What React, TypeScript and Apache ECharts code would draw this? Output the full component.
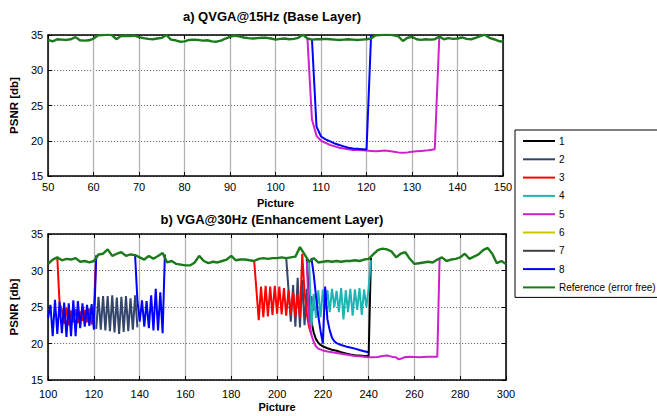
import React, { useEffect, useRef } from "react";
import * as echarts from "echarts";

const FONT = 'Arial, "Liberation Sans", Helvetica, sans-serif';

// ---------- Top chart (QVGA@15Hz) ----------
const topStart = 50; // frame of first reference value, one value per frame
const topReference = [
  34.3, 34.1, 34.4, 34.35, 34.3, 34.4, 34.7, 34.25, 34.2, 34.25,
  34.5, 34.95, 35.0, 35.05, 35.0, 34.4, 34.85, 34.9, 34.85, 34.9,
  34.7, 34.55, 34.45, 34.4, 34.5, 34.6, 35.0, 34.35, 34.25, 34.05,
  34.1, 34.3, 34.35, 34.3, 34.2, 34.25, 34.1, 34.05, 34.2, 34.5,
  34.75, 34.9, 34.8, 34.65, 34.55, 34.5, 34.55, 34.6, 34.6, 34.5,
  34.35, 34.45, 34.5, 34.4, 34.45, 34.6, 35.05, 34.5, 34.35, 34.4,
  34.4, 34.45, 34.4, 34.35, 34.3, 34.35, 34.4, 34.35, 34.3, 34.35,
  34.4, 34.5, 34.95, 35.0, 35.05, 35.05, 34.95, 34.8, 34.15, 34.6,
  34.75, 34.4, 34.3, 34.4, 34.35, 34.4, 34.8, 34.4, 34.55, 34.45,
  34.5, 34.65, 34.45, 34.4, 34.6, 34.85, 35.05, 34.6, 34.4, 34.15,
  34.05,
];
const topSeries5 = [
  [107, 34.6], [108, 23.0], [109, 20.7], [110, 20.0], [111, 19.7], [112, 19.4],
  [113, 19.2], [114, 19.0], [115, 18.9], [116, 18.8], [117, 18.7], [118, 18.7],
  [119, 18.65], [120, 18.6], [121, 18.55], [122, 18.5], [123, 18.55], [124, 18.6],
  [125, 18.55], [126, 18.45], [127, 18.35], [128, 18.3], [129, 18.35], [130, 18.45],
  [131, 18.5], [132, 18.55], [133, 18.6], [134, 18.7], [135, 18.8], [136, 34.8],
];
const topSeries8 = [
  [108, 34.4], [109, 22.0], [110, 20.6], [111, 20.2], [112, 19.9], [113, 19.6],
  [114, 19.4], [115, 19.2], [116, 19.0], [117, 18.9], [118, 18.85], [119, 18.8],
  [120, 18.75], [121, 35.0],
];

// ---------- Bottom chart (VGA@30Hz) ----------
const bottomStart = 100;
const bottomStep = 2; // reference sampled every 2 frames
const bottomReference = [
  30.9, 31.5, 31.8, 31.4, 31.6, 31.5, 31.7, 31.2, 31.3, 31.1,
  31.3, 32.2, 32.3, 32.9, 32.0, 32.3, 32.5, 32.0, 32.2, 32.1,
  31.8, 31.5, 32.0, 31.6, 32.0, 32.4, 31.1, 31.3, 30.9, 30.8,
  30.7, 30.7, 31.1, 32.0, 31.3, 31.0, 31.2, 31.1, 31.3, 31.5,
  32.0, 31.4, 31.5, 31.5, 31.4, 31.3, 31.6, 31.7, 31.6, 31.7,
  31.7, 31.8, 31.7, 31.8, 31.9, 33.2, 32.2, 31.2, 31.7, 31.1,
  31.2, 31.3, 31.2, 31.3, 31.2, 31.3, 31.3, 31.4, 31.3, 31.5,
  31.6, 32.2, 32.8, 33.0, 32.9, 32.6, 31.8, 32.3, 32.5, 31.6,
  30.9, 31.0, 31.1, 31.2, 31.1, 31.5, 31.8, 31.3, 31.5, 31.6,
  31.8, 32.3, 31.6, 31.9, 32.2, 32.8, 33.1, 32.3, 31.0, 31.3,
  30.9,
];
const bottom1 = [
  [213, 31.6], [214, 26.0], [215, 23.0], [216, 21.5], [217, 20.6], [218, 20.1],
  [219, 19.8], [220, 19.6], [222, 19.35], [224, 19.15], [226, 19.0], [228, 18.8],
  [230, 18.65], [232, 18.5], [234, 18.4], [236, 18.35], [238, 18.3], [240, 18.3], [241, 31.7],
];
const bottom2a = [
  [121, 22.0], [122, 26.4], [123, 21.9], [124, 26.5], [125, 21.8], [126, 26.5],
  [127, 21.7], [128, 26.6], [129, 21.5], [130, 26.3], [131, 21.3], [132, 26.4],
  [133, 21.6], [134, 26.5], [135, 21.7], [136, 26.2], [137, 21.9], [138, 26.6], [139, 22.2],
];
const bottom2b = [
  [204, 31.7], [206, 23.0], [207, 28.0], [208, 22.3], [209, 29.0], [210, 22.2],
  [211, 28.7], [212, 22.5], [213, 27.5], [214, 23.5], [215, 26.5], [216, 24.5],
];
const bottom3a = [
  [104, 31.8], [105, 25.5], [106, 24.6], [107, 22.7], [108, 24.9], [109, 22.5],
  [110, 24.5], [111, 22.9], [112, 24.7], [113, 22.8], [114, 24.4], [115, 23.1],
  [116, 24.6], [117, 22.9], [118, 24.8], [119, 22.6], [120, 24.5], [121, 31.9],
];
const bottom3b = [
  [190, 31.3], [192, 23.2], [193, 27.8], [194, 23.6], [195, 27.9], [196, 23.7],
  [197, 27.8], [198, 23.9], [199, 27.9], [200, 24.1], [201, 27.8], [202, 24.0],
  [203, 27.6], [204, 23.8], [205, 27.3], [206, 24.0], [207, 27.0], [208, 23.6],
  [209, 26.8], [210, 23.5], [211, 32.3], [212, 27.0], [213, 24.0], [214, 22.2], [215, 21.2],
];
const bottom4 = [
  [214, 31.4], [215, 22.3], [216, 26.8], [217, 23.5], [218, 27.3], [219, 23.6],
  [220, 27.4], [221, 24.7], [222, 27.3], [223, 24.3], [224, 27.5], [225, 25.0],
  [226, 27.2], [227, 24.3], [228, 27.6], [229, 23.3], [230, 27.3], [231, 24.3],
  [232, 27.5], [233, 23.8], [234, 27.4], [235, 24.6], [236, 27.6], [237, 23.9],
  [238, 27.4], [239, 25.0], [240, 27.6], [241, 31.4],
];
const bottom5 = [
  [213, 31.3], [214, 23.0], [215, 21.2], [216, 20.2], [217, 19.6], [218, 19.3],
  [220, 19.05], [222, 18.9], [224, 18.8], [226, 18.7], [228, 18.6], [230, 18.5],
  [232, 18.4], [234, 18.3], [236, 18.25], [238, 18.2], [240, 18.1], [242, 18.1],
  [244, 18.15], [246, 18.3], [248, 18.35], [250, 18.2], [252, 18.1], [253, 17.85],
  [254, 17.9], [256, 18.15], [258, 18.2], [260, 18.15], [262, 18.1], [264, 18.15],
  [266, 18.2], [268, 18.2], [270, 18.2], [271, 31.7],
];
const bottom6: number[][] = [];
const bottom7: number[][] = [];
const bottom8a = [
  [100, 23.5], [101, 25.3], [102, 21.0], [103, 26.0], [104, 21.3], [105, 25.7],
  [106, 21.4], [107, 25.6], [108, 20.9], [109, 25.5], [110, 21.0], [111, 25.9],
  [112, 21.0], [113, 25.8], [114, 22.1], [115, 25.5], [116, 22.3], [117, 25.3],
  [118, 22.4], [119, 25.4], [120, 21.9], [121, 32.1],
];
const bottom8b = [
  [138, 32.0], [139, 25.9], [140, 23.0], [141, 25.9], [142, 22.3], [143, 25.8],
  [144, 22.1], [145, 26.6], [146, 21.8], [147, 27.5], [148, 21.8], [149, 27.0],
  [150, 21.4], [151, 32.2],
];
const bottom8c = [
  [215, 31.7], [216, 29.5], [217, 26.5], [218, 23.8], [219, 21.7], [220, 20.0],
  [221, 27.8], [222, 23.3], [223, 21.8], [224, 20.8], [225, 20.3], [226, 20.05],
  [228, 19.8], [230, 19.6], [232, 19.45], [234, 19.3], [236, 19.1], [238, 18.95], [240, 18.8],
];

const REF = "Reference (error free)";
const legendNames = ["1", "2", "3", "4", "5", "6", "7", "8", REF];
const COLORS: Record<string, string> = {
  "1": "#000000",
  "2": "#34466c",
  "3": "#ff0000",
  "4": "#1fb4b4",
  "5": "#cc22cc",
  "6": "#c8c800",
  "7": "#404040",
  "8": "#0000ff",
  [REF]: "#1b7b1b",
};

function buildOption() {
  const topRefData = topReference.map((v, i) => [topStart + i, v]);
  const botRefData = bottomReference.map((v, i) => [bottomStart + i * bottomStep, v]);

  const line = (name: string, data: number[][], grid: number, z: number, width = 2) => ({
    type: "line",
    name,
    data,
    xAxisIndex: grid * 2,
    yAxisIndex: grid * 2,
    symbol: "none",
    showSymbol: false,
    silent: true,
    z,
    lineStyle: { color: COLORS[name], width },
    itemStyle: { color: COLORS[name] },
  });

  const series = [
    line("5", topSeries5, 0, 5),
    line("8", topSeries8, 0, 8),
    line(REF, topRefData, 0, 10, 2.4),
    line("1", bottom1, 1, 1),
    line("2", bottom2a, 1, 2),
    line("2", bottom2b, 1, 2),
    line("3", bottom3a, 1, 3),
    line("3", bottom3b, 1, 3),
    line("4", bottom4, 1, 4),
    line("5", bottom5, 1, 5),
    line("6", bottom6, 1, 6),
    line("7", bottom7, 1, 7),
    line("8", bottom8a, 1, 8),
    line("8", bottom8b, 1, 8),
    line("8", bottom8c, 1, 8),
    line(REF, botRefData, 1, 10, 2.4),
  ];

  const labelStyle = { fontSize: 11, color: "#000", fontFamily: FONT };
  const nameStyle = { fontSize: 11, fontWeight: "bold", color: "#000", fontFamily: FONT };
  const axisLine = { show: true, onZero: false, lineStyle: { color: "#000", width: 1.5 } };
  const axisTick = { show: true, inside: true, length: 4, lineStyle: { color: "#000", width: 1 } };
  const vSplit = { show: true, lineStyle: { color: "#b4b4b4", width: 1.3, type: "solid" } };
  const hSplit = { show: true, lineStyle: { color: "#555", width: 1, type: [1, 2] } };

  const xMain = (grid: number, min: number, max: number, interval: number, margin: number, nameGap: number) => ({
    type: "value",
    gridIndex: grid,
    min,
    max,
    interval,
    position: "bottom",
    axisLine,
    axisTick,
    axisLabel: { ...labelStyle, margin },
    splitLine: vSplit,
    name: "Picture",
    nameLocation: "middle",
    nameGap,
    nameTextStyle: nameStyle,
  });
  const xTop = (grid: number, min: number, max: number, interval: number) => ({
    type: "value",
    gridIndex: grid,
    min,
    max,
    interval,
    position: "top",
    axisLine,
    axisTick,
    axisLabel: { show: false },
    splitLine: { show: false },
  });
  const yMain = (grid: number, nameGap: number) => ({
    type: "value",
    gridIndex: grid,
    min: 15,
    max: 35,
    interval: 5,
    position: "left",
    axisLine,
    axisTick,
    axisLabel: { ...labelStyle, margin: 5 },
    splitLine: hSplit,
    name: "PSNR [db]",
    nameLocation: "middle",
    nameGap,
    nameTextStyle: { ...nameStyle, fontSize: 11.5 },
  });
  const yRight = (grid: number) => ({
    type: "value",
    gridIndex: grid,
    min: 15,
    max: 35,
    interval: 5,
    position: "right",
    axisLine,
    axisTick,
    axisLabel: { show: false },
    splitLine: { show: false },
  });

  return {
    animation: false,
    backgroundColor: "#ffffff",
    textStyle: { fontFamily: FONT },
    title: [
      {
        text: "a) QVGA@15Hz (Base Layer)",
        left: 272,
        top: 10,
        textAlign: "center",
        padding: 0,
        textStyle: { fontSize: 13, fontWeight: "bold", color: "#000", fontFamily: FONT },
      },
      {
        text: "b) VGA@30Hz (Enhancement Layer)",
        left: 272,
        top: 212,
        textAlign: "center",
        padding: 0,
        textStyle: { fontSize: 13, fontWeight: "bold", color: "#000", fontFamily: FONT, lineHeight: 14 },
      },
    ],
    legend: {
      data: legendNames,
      orient: "vertical",
      left: 515,
      top: 130,
      padding: [6, 2, 5, 7],
      itemGap: 8.3,
      itemWidth: 32,
      itemHeight: 10,
      borderColor: "#000",
      borderWidth: 1,
      backgroundColor: "#fff",
      selectedMode: false,
      itemStyle: { opacity: 0 },
      lineStyle: { width: 2 },
      textStyle: { fontSize: 10, color: "#000", fontFamily: FONT, padding: [0, 0, 0, -1] },
    },
    grid: [
      { left: 43, top: 35, width: 460, height: 141 },
      { left: 41, top: 234, width: 465, height: 146 },
    ],
    xAxis: [
      xMain(0, 50, 150, 10, 5, 21),
      xTop(0, 50, 150, 10),
      xMain(1, 100, 300, 20, 8, 21),
      xTop(1, 100, 300, 20),
    ],
    yAxis: [yMain(0, 21), yRight(0), yMain(1, 22), yRight(1)],
    series,
  };
}

export default function App() {
  const ref = useRef<HTMLDivElement>(null);
  useEffect(() => {
    if (!ref.current) return;
    const chart = echarts.init(ref.current, undefined, { renderer: "svg" });
    chart.setOption(buildOption() as any);
    return () => chart.dispose();
  }, []);
  return (
    <div
      ref={ref}
      style={{ position: "fixed", left: 0, top: 0, width: 657, height: 416, background: "#fff" }}
    />
  );
}
